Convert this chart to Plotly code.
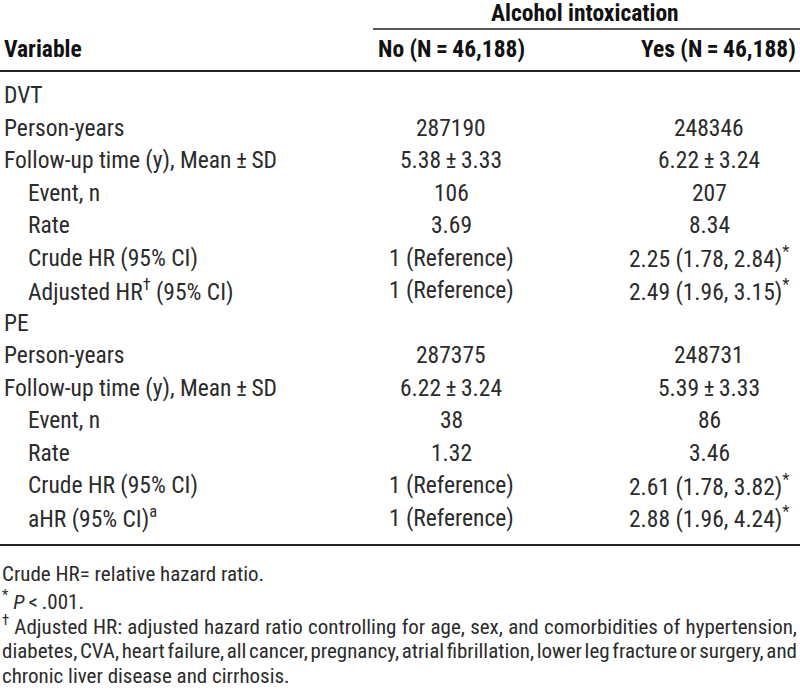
import json
import plotly.graph_objects as go

FONT = "Roboto Condensed, Liberation Sans Narrow, Arial Narrow, sans-serif"

# table content
group_title = "Alcohol intoxication"
col_headers = ["Variable", "No (N\u2009=\u200946,188)", "Yes (N\u2009=\u200946,188)"]

row_labels = [
    "DVT", "Person-years", "Follow-up time (y), Mean\u2009\u00b1\u2009SD", "Event, n", "Rate",
    "Crude HR (95% CI)", "Adjusted HR<sup>\u2020</sup> (95% CI)",
    "PE", "Person-years", "Follow-up time (y), Mean\u2009\u00b1\u2009SD", "Event, n", "Rate",
    "Crude HR (95% CI)", "aHR (95% CI)<sup>a</sup>",
]
row_indent = [0, 0, 0, 1, 1, 1, 1, 0, 0, 0, 1, 1, 1, 1]
no_values = [
    "", "287190", "5.38\u2009\u00b1\u20093.33", "106", "3.69", "1 (Reference)", "1 (Reference)",
    "", "287375", "6.22\u2009\u00b1\u20093.24", "38", "1.32", "1 (Reference)", "1 (Reference)",
]
yes_values = [
    "", "248346", "6.22\u2009\u00b1\u20093.24", "207", "8.34", "2.25 (1.78, 2.84)", "2.49 (1.96, 3.15)",
    "", "248731", "5.39\u2009\u00b1\u20093.33", "86", "3.46", "2.61 (1.78, 3.82)", "2.88 (1.96, 4.24)",
]
yes_star = [0, 0, 0, 0, 0, 1, 1, 0, 0, 0, 0, 0, 1, 1]

footnotes = [
    "Crude HR= relative hazard ratio.",
    "<sup>*</sup> <i>P</i>\u2009<\u2009.001.",
    "<sup>\u2020</sup> Adjusted HR: adjusted hazard ratio controlling for age, sex, and comorbidities of hypertension,",
    "diabetes, CVA, heart failure, all cancer, pregnancy, atrial fibrillation, lower leg fracture or surgery, and",
    "chronic liver disease and cirrhosis.",
]
# footnote lines stretched to the full width (matched by their ending)
justified_ends = ["of hypertension,", "or surgery, and"]

W, H = 800, 696
x_label, x_indent, x_no, x_yes = 2, 26, 451, 709
y_first, y_step = 95, 32.5
txt_color = "#2b2b2b"
body_font = dict(family=FONT, size=23.5, color=txt_color)

fig = go.Figure()
ann = []

head_font = dict(family=FONT, size=23.5, color="#111", weight="bold")
ann.append(dict(x=585, y=13, text=group_title, xanchor="center", font=head_font))
ann.append(dict(x=x_label, y=49, text=col_headers[0], xanchor="left", font=head_font))
ann.append(dict(x=x_no, y=49, text=col_headers[1], xanchor="center", font=head_font))
ann.append(dict(x=798, y=49, text=col_headers[2], xanchor="right", font=head_font))

for i, lab in enumerate(row_labels):
    y = y_first + i * y_step
    ann.append(dict(x=x_indent if row_indent[i] else x_label, y=y, text=lab, xanchor="left",
                    font=body_font))
    if no_values[i]:
        ann.append(dict(x=x_no, y=y, text=no_values[i], xanchor="center", font=body_font))
    if yes_values[i]:
        t = yes_values[i] + ("<sup>*</sup>" if yes_star[i] else "")
        ann.append(dict(x=x_yes, y=y, text=t, xanchor="center", font=body_font))

for i, fn in enumerate(footnotes):
    ann.append(dict(x=0, y=574 + i * 25.5, text=fn, xanchor="left", align="left",
                    font=dict(family=FONT, size=21, color=txt_color)))

for a in ann:
    a.update(xref="x", yref="y", showarrow=False, yanchor="middle")

shapes = [
    dict(type="line", x0=373, x1=800, y0=29, y1=29, line=dict(color="#222", width=1.5)),
    dict(type="line", x0=0, x1=800, y0=71, y1=71, line=dict(color="#222", width=2.2)),
    dict(type="line", x0=0, x1=800, y0=545, y1=545, line=dict(color="#222", width=2.2)),
]
for s in shapes:
    s.update(xref="x", yref="y")

fig.update_layout(
    width=W, height=H,
    margin=dict(l=0, r=0, t=0, b=0),
    paper_bgcolor="white", plot_bgcolor="white",
    annotations=ann, shapes=shapes,
    xaxis=dict(range=[0, W], visible=False, fixedrange=True),
    yaxis=dict(range=[H, 0], visible=False, fixedrange=True),
    showlegend=False,
)

# no page margin; justify the long footnote lines with word spacing
post = """
document.body.style.margin = '0';
var ends = %s;
document.querySelectorAll('text.annotation-text').forEach(function (t) {
  var s = t.textContent.replace(/\\u200b/g, '').trim();
  var hit = ends.some(function (e) { return s.slice(-e.length) === e; });
  if (!hit) return;
  var n = (s.match(/ /g) || []).length;
  var box = t.getBBox();
  var extra = (797 - box.x - box.width) / n;
  t.style.wordSpacing = extra + 'px';
});
""" % json.dumps(justified_ends)

fig.write_html("out.html", config={"displayModeBar": False}, post_script=post)
